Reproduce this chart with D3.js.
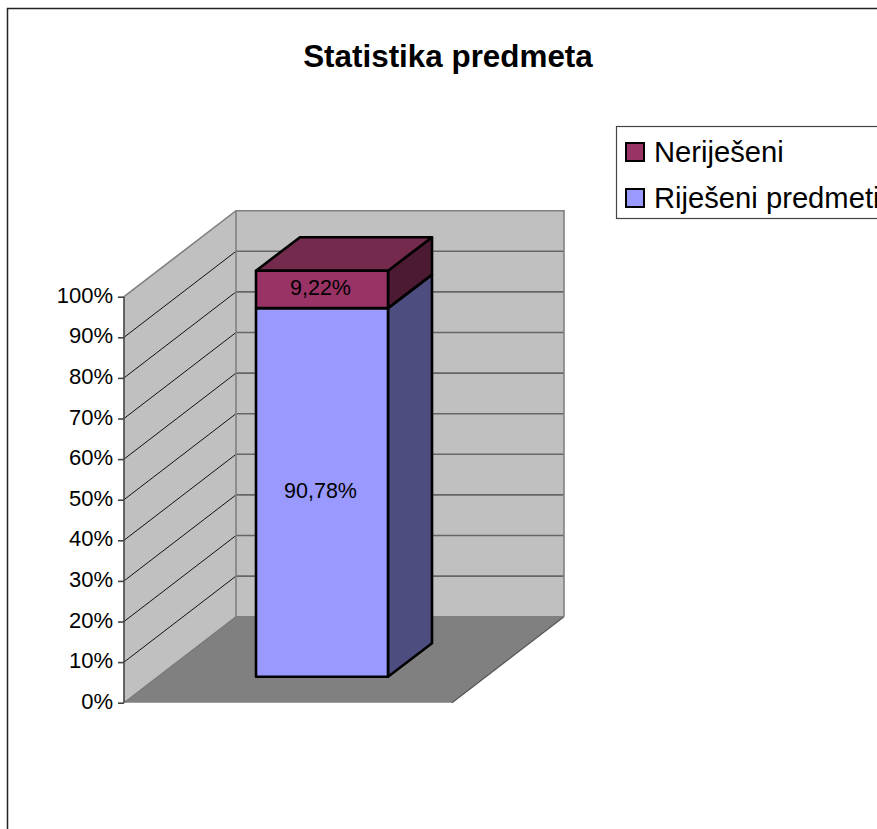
<!DOCTYPE html>
<html><head><meta charset="utf-8">
<script src="https://cdnjs.cloudflare.com/ajax/libs/d3/7.8.5/d3.min.js"></script>
<style>html,body{margin:0;padding:0;background:#fff}svg{display:block;font-family:"Liberation Sans",Arial,sans-serif}</style>
</head><body><div id="c"></div>
<script>
const title = "Statistika predmeta";
const seriesNames = ["Nerije\u0161eni", "Rije\u0161eni predmeti"];
const seriesValues = [9.22, 90.78];
const valueLabels = ["9,22%", "90,78%"];
const ticks = [0,10,20,30,40,50,60,70,80,90,100];
const colors = {
  front: ["#993366", "#9999ff"],
  side: ["#4d1a33", "#4d4d80"],
  top: "#732a4d"
};

const W = 877, H = 829;
const svg = d3.select("#c").append("svg").attr("width", W).attr("height", H);

// frame
svg.append("rect").attr("x",7.5).attr("y",8.5).attr("width",W+20).attr("height",H+20)
  .attr("fill","#fff").attr("stroke","#222").attr("stroke-width",1.5);

svg.append("text").attr("x",448).attr("y",67).attr("text-anchor","middle")
  .attr("font-size",31.4).attr("font-weight","bold").attr("fill","#000").text(title);

// 3D box geometry
const x0 = 124, x1 = 452, dx = 112, dy = -86;
const yFront = d3.scaleLinear().domain([0,100]).range([702.7,296.7]);
const line = d3.line();
const poly = (g,pts,fill,stroke,sw) => g.append("path").attr("d",line(pts)+"Z")
  .attr("fill",fill).attr("stroke",stroke||"none").attr("stroke-width",sw||0).attr("stroke-linejoin","round");

const walls = svg.append("g");
const yb = yFront(0), yt = yFront(100);
poly(walls,[[x0+dx,yt+dy],[x1+dx,yt+dy],[x1+dx,yb+dy],[x0+dx,yb+dy]],"#c0c0c0");
poly(walls,[[x0,yt],[x0+dx,yt+dy],[x0+dx,yb+dy],[x0,yb]],"#c0c0c0");
poly(walls,[[x0,yb],[x0+dx,yb+dy],[x1+dx,yb+dy],[x1,yb]],"#808080");

// gridlines
walls.selectAll("path.side").data(ticks.filter(t=>t>0&&t<100)).join("path").attr("class","side")
  .attr("d",t=>line([[x0,yFront(t)],[x0+dx,yFront(t)+dy]]))
  .attr("stroke","#111").attr("stroke-width",1).attr("fill","none");
walls.selectAll("path.back").data(ticks.filter(t=>t>0&&t<100)).join("path").attr("class","back")
  .attr("d",t=>line([[x0+dx,yFront(t)+dy],[x1+dx,yFront(t)+dy]]))
  .attr("stroke","#666").attr("stroke-width",1.6).attr("fill","none");

// wall edges
const edge = (pts,c,w)=>walls.append("path").attr("d",line(pts)).attr("fill","none").attr("stroke",c).attr("stroke-width",w);
edge([[x0,yt],[x0+dx,yt+dy],[x1+dx,yt+dy],[x1+dx,yb+dy]],"#808080",1.6);
edge([[x0+dx,yt+dy],[x0+dx,yb+dy]],"#808080",1.6);
edge([[x0,yb],[x0+dx,yb+dy]],"#777",1.2);
edge([[x1+dx,yb+dy],[x1,yb]],"#555",1.2);
edge([[x0+dx,yb+dy],[x1+dx,yb+dy]],"#808080",1.2);

// axis
const axis = d3.axisLeft(yFront).tickValues(ticks).tickFormat(d=>d+"%").tickSize(6).tickPadding(5);
const ag = svg.append("g").attr("transform",`translate(${x0},0)`).call(axis);
ag.selectAll("path").attr("stroke","#444").attr("stroke-width",1.6).attr("d",`M0,${yt}V${yb}`);
ag.selectAll("line").attr("stroke","#444").attr("stroke-width",1.6);
ag.selectAll("text").attr("font-size",22).attr("fill","#000").attr("dy","0.32em").attr("y",-1.5).attr("font-family","'Liberation Sans',Arial,sans-serif");

// stacked bar
const barX0 = 256, barX1 = 388, bdx = 44, bdy = -33.5;
const yBar = d3.scaleLinear().domain([0,100]).range([676.7,270.7]);
const bar = svg.append("g");
const sw = 2.6, k = "#000";
const lowerTop = seriesValues[1], upperTop = seriesValues[0]+seriesValues[1];
// lower series
poly(bar,[[barX1,yBar(0)],[barX1+bdx,yBar(0)+bdy],[barX1+bdx,yBar(lowerTop)+bdy],[barX1,yBar(lowerTop)]],colors.side[1],k,sw);
poly(bar,[[barX0,yBar(0)],[barX1,yBar(0)],[barX1,yBar(lowerTop)],[barX0,yBar(lowerTop)]],colors.front[1],k,sw);
// upper series
poly(bar,[[barX1,yBar(lowerTop)],[barX1+bdx,yBar(lowerTop)+bdy],[barX1+bdx,yBar(upperTop)+bdy],[barX1,yBar(upperTop)]],colors.side[0],k,sw);
poly(bar,[[barX0,yBar(upperTop)],[barX0+bdx,yBar(upperTop)+bdy],[barX1+bdx,yBar(upperTop)+bdy],[barX1,yBar(upperTop)]],colors.top,k,sw);
poly(bar,[[barX0,yBar(lowerTop)],[barX1,yBar(lowerTop)],[barX1,yBar(upperTop)],[barX0,yBar(upperTop)]],colors.front[0],k,sw);

// value labels
const midVal = [lowerTop+seriesValues[0]/2, lowerTop/2];
svg.append("g").selectAll("text").data(valueLabels).join("text")
  .attr("x",(barX0+barX1)/2-1.5).attr("y",(d,i)=>yBar(midVal[i])+5.5)
  .attr("text-anchor","middle").attr("font-size",21.5).attr("fill","#000").text(d=>d);

// legend
const lg = svg.append("g");
lg.append("rect").attr("x",616.5).attr("y",126.5).attr("width",W).attr("height",92)
  .attr("fill","#fff").attr("stroke","#444").attr("stroke-width",1.2);
const legendY = d3.scalePoint().domain(seriesNames).range([152,198]);
seriesNames.forEach((n,i)=>{
  lg.append("rect").attr("x",626).attr("y",legendY(n)-9).attr("width",18).attr("height",18)
    .attr("fill",colors.front[i]).attr("stroke","#000").attr("stroke-width",2);
  lg.append("text").attr("x",654).attr("y",legendY(n)+10).attr("font-size",29.2).attr("fill","#000").text(n);
});
</script></body></html>
